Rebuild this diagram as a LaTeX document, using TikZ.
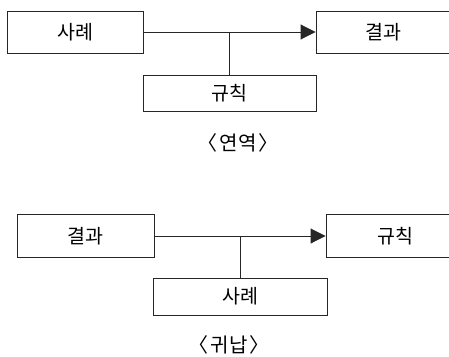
\documentclass[tikz,border=0pt]{standalone}
\usepackage{fontspec}
\setmainfont{Noto Sans CJK KR}
\usetikzlibrary{arrows.meta}
\begin{document}
\begin{tikzpicture}[x=1pt,y=-1pt,
  box/.style={draw=black!85,line width=0.9pt,rectangle,inner sep=0pt,font=\fontsize{19.5}{22}\selectfont},
  conn/.style={draw=black!85,line width=0.9pt},
  arr/.style={conn,-{Triangle[length=15pt,width=15pt]}},
  captext/.style={font=\fontsize{20}{24}\selectfont}]
\useasboundingbox (0,0) rectangle (449,356);
\clip (0,0) rectangle (449,356);
% top
\node[box,minimum width=136pt,minimum height=42pt] (a) at (75,32) {사례};
\node[box,minimum width=144pt,minimum height=42pt] (b) at (388,32) {\hspace*{-10pt}결과};
\node[box,minimum width=173pt,minimum height=36pt] (c) at (229.5,93) {규칙};
\draw[arr] (a.east) -- (b.west);
\draw[conn] (c.north) -- (c.north |- a.east);
\node[captext] (l1) at (238,143) {〈\hspace{2pt}연역\hspace{2pt}〉};
% bottom
\node[box,minimum width=137pt,minimum height=43pt] (d) at (85.5,236) {결과};
\node[box,minimum width=146pt,minimum height=43pt] (e) at (399,236) {\hspace*{-8pt}규칙};
\node[box,minimum width=174pt,minimum height=37pt] (f) at (240,296.5) {사례};
\draw[arr] (d.east) -- (e.west);
\draw[conn] (f.north) -- (f.north |- d.east);
\node[captext] (l2) at (229,345) {〈\hspace{2pt}귀납\hspace{2pt}〉};
\end{tikzpicture}
\end{document}
